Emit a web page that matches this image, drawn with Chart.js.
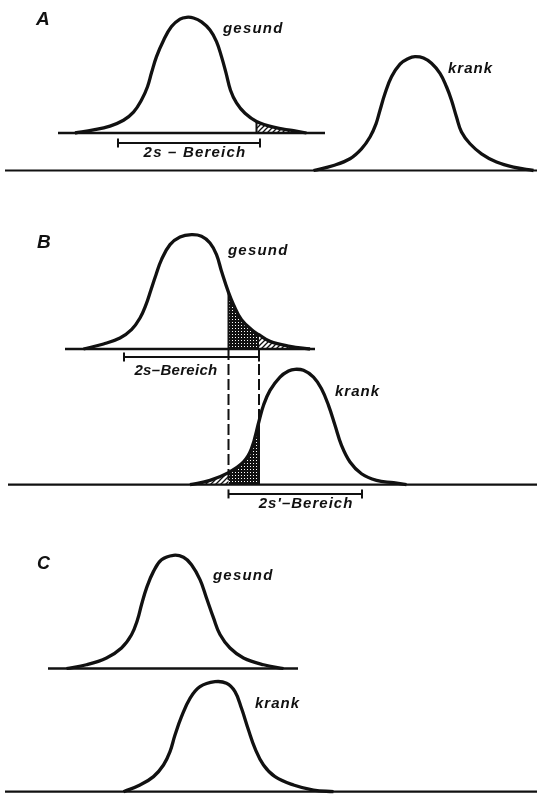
<!DOCTYPE html>
<html>
<head>
<meta charset="utf-8">
<script src="https://cdn.jsdelivr.net/npm/chart.js@4.4.1/dist/chart.umd.min.js"></script>
<style>
  html, body { margin: 0; padding: 0; background: #fff; }
  #wrap { width: 537px; height: 795px; }
</style>
</head>
<body>
<div id="wrap"><canvas id="curveChart" width="537" height="795"></canvas></div>
<script>
// ==================================================
// DATA (x = Messwert, y = Höhe in % des Gipfels)
// ==================================================

// A: gesund / krank clearly separated
const aGesundX = [15, 18.7, 22, 24.7, 26.7, 28.3, 29.5, 30.3, 31.3, 32.7, 34.3, 36, 37.3, 38.7, 40.3, 42, 43.3, 44.3, 45.2, 46.1, 47.3, 49, 51.3, 54.7, 58.7, 61.3];
const aGesundY = [0, 2.6, 6, 11, 18, 28.5, 40, 52, 66, 80, 92, 98.4, 100, 99.4, 96, 89, 79, 66, 52, 37, 26, 17, 10, 5, 2, 0];
const aKrankX = [62.7, 66.7, 70, 72.3, 74, 75.2, 76, 77, 78.3, 80, 81.7, 83, 84.7, 86.3, 88, 89.3, 90.3, 91.3, 92.3, 94, 96.3, 99.3, 102.7, 106.7];
const aKrankY = [0, 4.4, 10.3, 19, 29.4, 41, 53, 67.6, 82.3, 93.5, 98.5, 100, 98.8, 94.2, 85.4, 73.6, 61.8, 47, 33.8, 23.5, 14.7, 7.4, 2.9, 0];

// B: overlapping distributions
const bGesundX = [16.7, 20.7, 24, 26.3, 28, 29.2, 30.2, 31.2, 32.3, 34, 36, 38.3, 40.3, 42, 43.3, 44.3, 45.7, 46.7, 48.3, 50.7, 51.8, 54, 58, 62];
const bGesundY = [0, 4.4, 9.6, 16.9, 27.1, 38.8, 51.9, 65, 78.2, 91.3, 98, 100, 98.6, 92.7, 82.5, 68, 49.5, 38.8, 25.6, 15.5, 12.5, 6.7, 2.4, 0];
const bKrankX = [38, 42, 45.7, 48.7, 50.3, 51.8, 52.7, 54, 56, 57.7, 59, 60.7, 62.7, 64.3, 65.7, 67, 68.3, 70, 72.3, 75.3, 78.7, 81.3];
const bKrankY = [0, 3.8, 10.5, 19.7, 31.2, 55, 68.8, 81.8, 93.3, 98.5, 100, 99.1, 93.3, 83.2, 68.8, 51.5, 34.1, 19.7, 9.5, 3.8, 1.7, 0];

// C: narrow distributions
const cGesundX = [13.3, 17.3, 21.3, 24.3, 26.3, 27.5, 28.3, 29.3, 30.7, 32.3, 34.7, 36.7, 38.3, 40, 41.3, 42.7, 44, 46, 48.7, 52.7, 56.7];
const cGesundY = [0, 3.3, 9.3, 18.1, 29.8, 43, 56.3, 71, 85.8, 96, 100, 98.2, 91.7, 78.5, 62.3, 44.7, 30, 18.1, 9.3, 3.3, 0];
const cKrankX = [24.7, 28, 30.7, 32.7, 34, 35, 36.3, 38, 40, 43, 45.3, 47, 48.3, 49.7, 51, 52.7, 55, 58.7, 62.7, 66.7];
const cKrankY = [0, 6.1, 13.7, 24.3, 36.4, 51.5, 68.2, 84.9, 95.5, 100, 98.5, 90.9, 75.8, 56.1, 39.4, 24.3, 13.7, 6.1, 1.5, 0];

// 2s ranges
const aRange = [23.6, 52];
const bGesundRange = [24.8, 51.8];
const bKrankRange = [45.7, 72.4];

// ==================================================
// HELPERS
// ==================================================
const H = 795;
const INK = '#111';
const TENSION = 0.4;

// each curve gets its own hidden y axis: 0 sits on its baseline, 100 on its peak
function yRange(basePx, peakPx) {
    const perPx = 100 / (basePx - peakPx);
    const min = -(H - basePx) * perPx;
    return { type: 'linear', display: false, min: min, max: min + H * perPx };
}

function pts(xs, ys) {
    return xs.map((x, i) => ({ x: x, y: ys[i] }));
}

function curve(xs, ys, axis) {
    return {
        data: pts(xs, ys), yAxisID: axis,
        borderColor: INK, borderWidth: 3.3, borderJoinStyle: 'round',
        tension: TENSION, fill: false, order: 0
    };
}

function shade(xs, ys, axis, from, to, pattern) {
    return {
        data: pts(xs, ys).filter(p => p.x >= from && p.x <= to), yAxisID: axis,
        borderWidth: 0, backgroundColor: pattern, fill: 'origin',
        tension: TENSION, order: 2
    };
}

// vertical edge of a shaded area, from baseline up to the curve
function edge(xs, ys, axis, xCut) {
    const top = ys[xs.indexOf(xCut)];
    return {
        data: [{ x: xCut, y: 0 }, { x: xCut, y: top }], yAxisID: axis,
        borderColor: INK, borderWidth: 2, fill: false, order: 1
    };
}

function rule(x0, x1, axis, width) {
    return {
        data: [{ x: x0, y: 0 }, { x: x1, y: 0 }], yAxisID: axis,
        borderColor: INK, borderWidth: width, fill: false, order: 1
    };
}

function bracket(range, y, axis) {
    return {
        data: [{ x: range[0], y: y }, { x: range[1], y: y }], yAxisID: axis,
        borderColor: INK, borderWidth: 2, fill: false, order: 1,
        pointStyle: 'line', pointRotation: 90, pointRadius: 4.5,
        pointBorderColor: INK, pointBorderWidth: 2
    };
}

function makePattern(kind) {
    const c = document.createElement('canvas');
    const g = c.getContext('2d');
    if (kind === 'cross') {
        c.width = c.height = 3;
        g.fillStyle = INK;
        g.fillRect(0, 0, 3, 3);
        g.fillStyle = '#fff';
        g.fillRect(1, 1, 1, 1);
    } else {
        c.width = c.height = 5;
        g.strokeStyle = INK;
        g.lineWidth = 1.3;
        g.beginPath();
        g.moveTo(-1, 6); g.lineTo(6, -1);
        g.moveTo(-1, 1); g.lineTo(1, -1);
        g.moveTo(4, 6); g.lineTo(6, 4);
        g.stroke();
    }
    return g.createPattern(c, 'repeat');
}

const crossFill = makePattern('cross');
const diagFill = makePattern('diag');

// ==================================================
// TEXT + DASHED LINES (drawn through the scales)
// ==================================================
const notes = [
    { text: 'A', x: 7.2, y: 93.3, axis: 'yAG', size: 19, sp: 0 },
    { text: 'gesund', x: 44.6, y: 86.4, axis: 'yAG', size: 15, sp: 1.2 },
    { text: 'krank', x: 89.6, y: 85.7, axis: 'yAK', size: 15, sp: 1 },
    { text: '2s – Bereich', x: 39, y: -20.7, axis: 'yAG', size: 15, sp: 1.2, center: true },
    { text: 'B', x: 7.4, y: 88.4, axis: 'yBG', size: 19, sp: 0 },
    { text: 'gesund', x: 45.6, y: 82.2, axis: 'yBG', size: 15, sp: 1.2 },
    { text: '2s–Bereich', x: 35.2, y: -22.7, axis: 'yBG', size: 15, sp: 0.3, center: true },
    { text: 'krank', x: 67, y: 76.9, axis: 'yBK', size: 15, sp: 1 },
    { text: "2s'–Bereich", x: 61.2, y: -20.2, axis: 'yBK', size: 15, sp: 1, center: true },
    { text: 'C', x: 7.4, y: 87.9, axis: 'yCG', size: 18, sp: 0 },
    { text: 'gesund', x: 42.6, y: 78.2, axis: 'yCG', size: 15, sp: 1.2 },
    { text: 'krank', x: 51, y: 76.1, axis: 'yCK', size: 15, sp: 1 }
];
const dashX = [45.7, 51.8];

const annotate = {
    id: 'annotate',
    afterDatasetsDraw(chart) {
        const ctx = chart.ctx;
        const sx = chart.scales.x;
        ctx.save();

        // dashed drop lines between the two B curves
        ctx.strokeStyle = INK;
        ctx.lineWidth = 2;
        ctx.setLineDash([11, 4]);
        dashX.forEach(v => {
            const px = sx.getPixelForValue(v);
            ctx.beginPath();
            ctx.moveTo(px, chart.scales.yBG.getPixelForValue(0));
            ctx.lineTo(px, chart.scales.yBK.getPixelForValue(0));
            ctx.stroke();
        });
        ctx.setLineDash([]);

        ctx.fillStyle = INK;
        ctx.textBaseline = 'alphabetic';
        notes.forEach(n => {
            ctx.font = 'italic bold ' + n.size + 'px "Liberation Sans", Arial, sans-serif';
            ctx.letterSpacing = n.sp + 'px';
            ctx.textAlign = n.center ? 'center' : 'left';
            ctx.fillText(n.text, sx.getPixelForValue(n.x), chart.scales[n.axis].getPixelForValue(n.y));
        });
        ctx.restore();
    }
};

// ==================================================
// CHART
// ==================================================
new Chart(document.getElementById('curveChart'), {
    type: 'line',
    data: {
        datasets: [
            // A
            curve(aGesundX, aGesundY, 'yAG'),
            shade(aGesundX, aGesundY, 'yAG', 51.3, 61.3, diagFill),
            edge(aGesundX, aGesundY, 'yAG', 51.3),
            rule(11.6, 65, 'yAG', 2.4),
            bracket(aRange, -8.6, 'yAG'),
            curve(aKrankX, aKrankY, 'yAK'),
            rule(1, 107.4, 'yAK', 2.2),
            // B
            curve(bGesundX, bGesundY, 'yBG'),
            shade(bGesundX, bGesundY, 'yBG', 45.7, 51.8, crossFill),
            shade(bGesundX, bGesundY, 'yBG', 51.8, 62, diagFill),
            edge(bGesundX, bGesundY, 'yBG', 45.7),
            rule(13, 63, 'yBG', 2.4),
            bracket(bGesundRange, -7, 'yBG'),
            curve(bKrankX, bKrankY, 'yBK'),
            shade(bKrankX, bKrankY, 'yBK', 38, 45.7, diagFill),
            shade(bKrankX, bKrankY, 'yBK', 45.7, 51.8, crossFill),
            edge(bKrankX, bKrankY, 'yBK', 51.8),
            rule(1.6, 107.4, 'yBK', 2.2),
            bracket(bKrankRange, -8, 'yBK'),
            // C
            curve(cGesundX, cGesundY, 'yCG'),
            rule(9.6, 59.6, 'yCG', 2.4),
            curve(cKrankX, cKrankY, 'yCK'),
            rule(1, 107.4, 'yCK', 2.2)
        ]
    },
    options: {
        responsive: false,
        devicePixelRatio: 1,
        animation: false,
        layout: { padding: 0, autoPadding: false },
        elements: { point: { radius: 0 } },
        plugins: { legend: { display: false }, tooltip: { enabled: false } },
        scales: {
            x: { type: 'linear', display: false, min: 0, max: 107.4 },
            yAG: yRange(133, 17.3),
            yAK: yRange(170.5, 56.7),
            yBG: yRange(349, 234.7),
            yBK: yRange(484.7, 369.3),
            yCG: yRange(668.5, 555.3),
            yCK: yRange(791.7, 681.7)
        }
    },
    plugins: [annotate]
});
</script>
</body>
</html>
